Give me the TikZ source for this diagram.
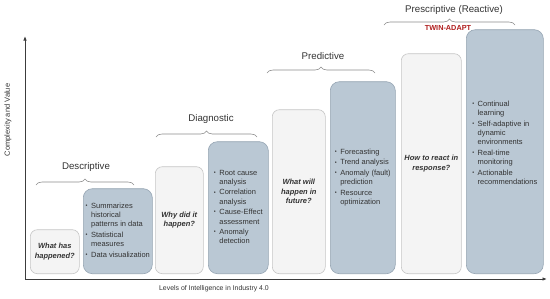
\documentclass[tikz,border=0pt]{standalone}
\usepackage{fontspec}
\setmainfont{Liberation Sans}
\usetikzlibrary{arrows.meta,decorations.pathreplacing}
\definecolor{lfill}{HTML}{F4F4F4}
\definecolor{ldraw}{HTML}{C6C6C6}
\definecolor{bfill}{HTML}{BAC8D4}
\definecolor{bdraw}{HTML}{95A4B2}
\definecolor{txt}{HTML}{333333}
\definecolor{brk}{HTML}{8C8C8C}
\definecolor{axc}{HTML}{3C3C3C}
\definecolor{twin}{HTML}{B01E1E}
\newcommand\bul{\raisebox{0.25ex}{\fontsize{5.5}{5.5}\selectfont\textbullet}}
\newcommand\ig{\\[1.5pt]}
\begin{document}
\begin{tikzpicture}[x=1pt,y=-1pt,
  qbox/.style={draw=ldraw,fill=lfill,line width=0.6pt,rounded corners=7pt,anchor=south west,
    inner sep=0pt,align=center,text=txt,font=\fontsize{7.5}{9.4}\selectfont\bfseries\itshape},
  bbox/.style={draw=bdraw,fill=bfill,line width=0.6pt,rounded corners=9pt,anchor=south west,
    inner sep=0pt,align=left,text=txt,font=\fontsize{7.5}{9.2}\selectfont},
  lvl/.style={text=txt,font=\fontsize{9.7}{11}\selectfont,inner sep=0pt},
  brc/.style={draw=brk,line width=0.6pt,decorate,decoration={brace,amplitude=6pt}},
  axis/.style={draw=axc,line width=0.9pt,-{Latex[length=4.5pt,width=3.5pt]}}]
\useasboundingbox (0,0) rectangle (550,298);
% axes
\coordinate (o) at (25,279);
\coordinate (ytip) at (25,36);
\coordinate (xtip) at (547,279);
\draw[axis] (o) -- (ytip);
\draw[axis] (o) -- (xtip);
\node[text=txt,font=\fontsize{6.9}{8}\selectfont,inner sep=0pt] (xl) at (214,289) {Levels of Intelligence in Industry 4.0};
\node[text=txt,font=\fontsize{7.5}{8}\selectfont,inner sep=0pt,rotate=90] (yl) at (8,120) {Complexity and Value};
% boxes
\node[qbox,minimum width=49pt,minimum height=44pt] (q1) at (30,274) {What has\\happened?};
\node[bbox,minimum width=69pt,minimum height=85pt] (d1) at (83,274) {\begin{tabular}{@{}l@{\hspace{3.5pt}}l@{}}
\bul & Summarizes\\ & historical\\ & patterns in data\ig
\bul & Statistical\\ & measures\ig
\bul & Data visualization\end{tabular}};
\node[qbox,minimum width=48pt,minimum height=107pt] (q2) at (155,274) {Why did it\\happen?};
\node[bbox,minimum width=60pt,minimum height=132pt] (d2) at (208,274) {\begin{tabular}{@{}l@{\hspace{3.5pt}}l@{}}
\bul & Root cause\\ & analysis\ig
\bul & Correlation\\ & analysis\ig
\bul & Cause-Effect\\ & assessment\ig
\bul & Anomaly\\ & detection\end{tabular}};
\node[qbox,minimum width=53pt,minimum height=164pt] (q3) at (272,274) {What will\\happen in\\future?};
\node[bbox,minimum width=65pt,minimum height=192pt] (d3) at (330,274) {\begin{tabular}{@{}l@{\hspace{3.5pt}}l@{}}
\bul & Forecasting\ig
\bul & Trend analysis\ig
\bul & Anomaly (fault)\\ & prediction\ig
\bul & Resource\\ & optimization\end{tabular}};
\node[qbox,minimum width=60pt,minimum height=220pt] (q4) at (401,274) {How to react in\\response?};
\node[bbox,minimum width=77pt,minimum height=244pt] (d4) at (466,274) {};
\node[text=txt,font=\fontsize{7.5}{9.2}\selectfont,inner sep=0pt,align=left,yshift=8pt] (d4t) at (d4.center) {\begin{tabular}{@{}l@{\hspace{3.5pt}}l@{}}
\bul & Continual\\ & learning\ig
\bul & Self-adaptive in\\ & dynamic\\ & environments\ig
\bul & Real-time\\ & monitoring\ig
\bul & Actionable\\ & recommendations\end{tabular}};
% braces and level labels
\draw[brc] (36,185) -- (134,185);
\node[lvl] (l1) at (86,167) {Descriptive};
\draw[brc] (156,137) -- (257,137);
\node[lvl] (l2) at (211,119) {Diagnostic};
\draw[brc] (267,73) -- (375,73);
\node[lvl] (l3) at (323,56) {Predictive};
\draw[brc] (384,25) -- (515,25);
\node[lvl] (l4) at (454,10) {Prescriptive (Reactive)};
\node[text=twin,font=\fontsize{7.3}{8}\selectfont\bfseries,inner sep=0pt] (tw) at (448,28) {TWIN-ADAPT};
\end{tikzpicture}
\end{document}
